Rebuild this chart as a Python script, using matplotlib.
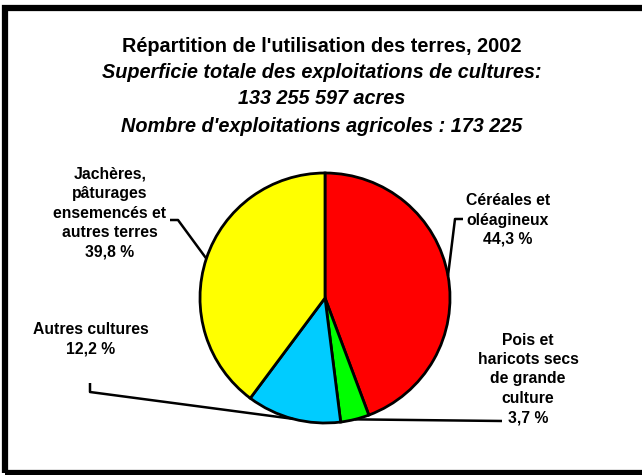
import numpy as np
import matplotlib
matplotlib.use("Agg")
import matplotlib.pyplot as plt
from matplotlib.patches import Rectangle

plt.rcParams['font.family'] = ['Liberation Sans', 'DejaVu Sans']

# data
labels = ["Céréales et\noléagineux\n44,3 %",
          "Pois et\nharicots secs\nde grande\nculture\n3,7 %",
          "Autres cultures\n12,2 %",
          "Jachères,\npâturages\nensemencés et\nautres terres\n39,8 %"]
shares = [44.3, 3.7, 12.2, 39.8]
colors = ["#FF0000", "#00FF00", "#00CCFF", "#FFFF00"]

title_lines = ["Répartition de l'utilisation des terres, 2002",
               "Superficie totale des exploitations de cultures:",
               "133 255 597 acres",
               "Nombre d'exploitations agricoles : 173 225"]

W, H = 642, 475
fig = plt.figure(figsize=(W / 100, H / 100), dpi=100)
ax = fig.add_axes([0, 0, 1, 1])

def py(y):
    # pixel row -> data y
    return H - y

# frame
ax.add_patch(Rectangle((5, py(473)), 660, 465, fill=False, edgecolor='black', linewidth=4.5))

# titles
title_y = [46, 73, 99, 126]
for i, (t, y) in enumerate(zip(title_lines, title_y)):
    ax.text(322, py(y), t, ha='center', va='center', fontsize=14.3, fontweight='bold',
            style='normal' if i == 0 else 'italic')

cx, cy, r = 325, py(298), 125
wedges, _ = ax.pie(shares, colors=colors, startangle=90, counterclock=False,
                   center=(cx, cy), radius=r, frame=True,
                   wedgeprops=dict(edgecolor='black', linewidth=2))
ax.set_xlim(0, W)
ax.set_ylim(0, H)
ax.set_aspect('equal')
ax.axis('off')

def anchor(w):
    a = np.deg2rad((w.theta1 + w.theta2) / 2)
    return cx + r * np.cos(a), cy + r * np.sin(a)

# label positions (text center, line path points before/after anchor)
label_pos = [(508, 220), (528, 379), (91, 339), (110, 213)]
elbows = [[(463, 219), (455, 219)],
          [(502, 421)],
          [(90, 383), (90, 392)],
          [(170, 220), (178, 220)]]

for i, w in enumerate(wedges):
    x, y = label_pos[i]
    ax.text(x, py(y), labels[i], ha='center', va='center', fontsize=11.3,
            fontweight='bold', linespacing=1.36)
    ax0, ay0 = anchor(w)
    pts = [(px, py(pyy)) for px, pyy in elbows[i]]
    if i == 1:
        path = [(ax0, ay0)] + pts
    else:
        path = pts + [(ax0, ay0)]
    xs, ys = zip(*path)
    ax.plot(xs, ys, color='black', linewidth=1.8, solid_capstyle='butt')

fig.savefig("out.png", dpi=100)
